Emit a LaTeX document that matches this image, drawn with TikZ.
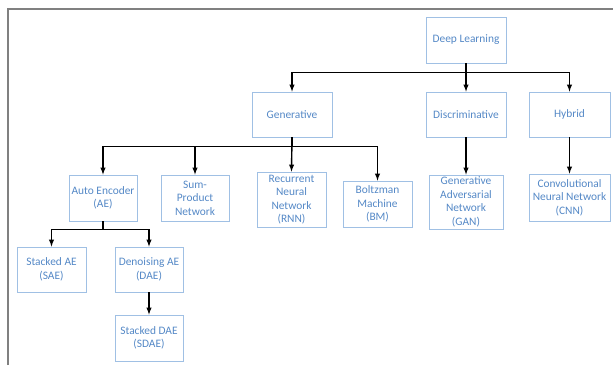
\documentclass[tikz,border=0pt]{standalone}
\usepackage{fontspec}
\setmainfont{Carlito}
\usetikzlibrary{arrows}
\definecolor{boxline}{RGB}{160,192,228}
\definecolor{boxtext}{RGB}{84,136,198}
\definecolor{framegray}{RGB}{128,128,128}

\begin{document}
\begin{tikzpicture}[x=1pt,y=-1pt]
\tikzstyle{dlbox}=[draw=boxline,line width=0.8pt,text=boxtext,align=center,
inner sep=0pt,font=\fontsize{11.4}{13.5}\selectfont]
\tikzstyle{link}=[draw,line width=1.4pt,-latex]
\useasboundingbox (0,0) rectangle (613,365);
%% frame of the page
\draw [framegray,line width=1.3pt] (8,365) -- (8,9) -- (613,9);
%% top levels
\node [dlbox,minimum width=80pt,minimum height=46pt] (deep) at (466,40) {Deep Learning};
\node [dlbox,minimum width=80pt,minimum height=45pt] (gen) at (292,114.5) {Generative};
\node [dlbox,minimum width=80pt,minimum height=45pt] (disc) at (466,114.5) {Discriminative};
\node [dlbox,minimum width=81pt,minimum height=45pt] (hyb) at (569.5,114.5) {Hybrid};
%% models
\node [dlbox,minimum width=68pt,minimum height=46pt] (ae) at (103,198) {Auto Encoder\\(AE)};
\node [dlbox,minimum width=68pt,minimum height=46pt] (spn) at (195,198) {Sum-\\Product\\Network};
\node [dlbox,minimum width=69pt,minimum height=55pt] (rnn) at (291.5,199.5) {Recurrent\\Neural\\Network\\(RNN)};
\node [dlbox,minimum width=69pt,minimum height=46pt] (bm) at (377.5,204) {Boltzman\\Machine\\(BM)};
\node [dlbox,minimum width=74pt,minimum height=54pt] (gan) at (466,202) {Generative\\Adversarial\\Network\\(GAN)};
\node [dlbox,minimum width=81pt,minimum height=47pt] (cnn) at (569.5,197.5) {Convolutional\\Neural Network\\(CNN)};
%% auto encoder variants
\node [dlbox,minimum width=69pt,minimum height=45pt] (sae) at (51.5,269.5) {Stacked AE\\(SAE)};
\node [dlbox,minimum width=68pt,minimum height=45pt] (dae) at (149,269.5) {Denoising AE\\(DAE)};
\node [dlbox,minimum width=68pt,minimum height=46pt] (sdae) at (149,338) {Stacked DAE\\(SDAE)};
%% connections
\draw [link] (deep.south) -- ++(0,9) -| (gen.north);
\draw [link] (deep.south) -- (disc.north);
\draw [link] (deep.south) -- ++(0,9) -| (hyb.north);
\draw [link] (gen.south) -- ++(0,9) -| (ae.north);
\draw [link] (gen.south) -- ++(0,9) -| (spn.north);
\draw [link] (gen.south) -- (rnn.north);
\draw [link] (gen.south) -- ++(0,9) -| (bm.north);
\draw [link] (disc.south) -- (gan.north);
\draw [link] (hyb.south) -- (cnn.north);
\draw [link] (ae.south) -- ++(0,8) -| (sae.north);
\draw [link] (ae.south) -- ++(0,8) -| (dae.north);
\draw [link] (dae.south) -- (sdae.north);
\end{tikzpicture}
\end{document}
